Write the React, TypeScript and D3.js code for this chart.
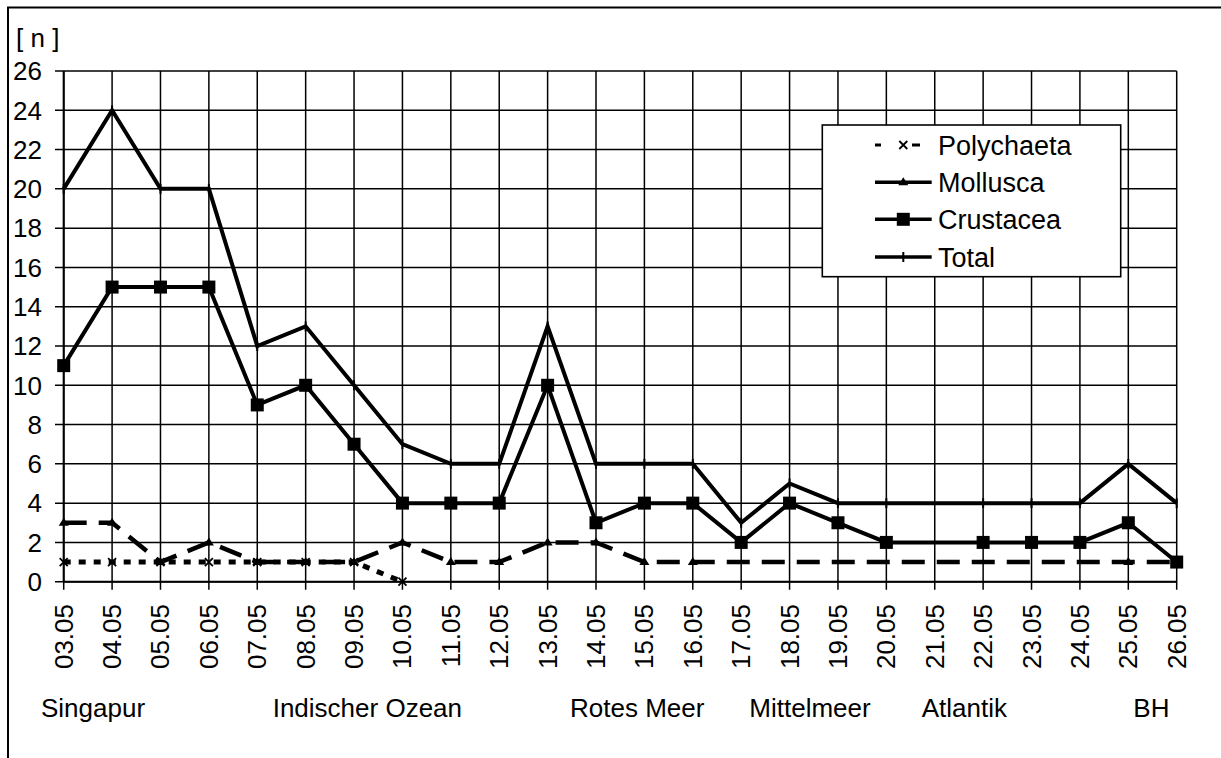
import React from "react";
import * as d3 from "d3";

const dates = ["03.05","04.05","05.05","06.05","07.05","08.05","09.05","10.05","11.05","12.05","13.05","14.05","15.05","16.05","17.05","18.05","19.05","20.05","21.05","22.05","23.05","24.05","25.05","26.05"];
const polychaeta: (number | null)[] = [1,1,1,1,1,1,1,0,null,null,null,null,null,null,null,null,null,null,null,null,null,null,null,null];
const mollusca: (number | null)[] = [3,3,1,2,1,1,1,2,1,1,2,2,1,1,null,null,null,null,null,null,null,null,1,1];
const crustacea: (number | null)[] = [11,15,15,15,9,10,7,4,4,4,10,3,4,4,2,4,3,2,null,2,2,2,3,1];
const total: (number | null)[] = [20,24,20,20,12,13,10,7,6,6,13,6,6,6,3,5,4,4,null,4,4,4,6,4];
const yTicks = [0,2,4,6,8,10,12,14,16,18,20,22,24,26];
const regions = [
  { name: "Singapur", x: 41 },
  { name: "Indischer Ozean", x: 272.7 },
  { name: "Rotes Meer", x: 570 },
  { name: "Mittelmeer", x: 749.3 },
  { name: "Atlantik", x: 921.7 },
  { name: "BH", x: 1133.3 },
];
const seriesNames = ["Polychaeta", "Mollusca", "Crustacea", "Total"];

const FONT = "Liberation Sans, Arial, sans-serif";

export default function App() {
  const x = d3.scalePoint<string>().domain(dates).range([63.7, 1176.7]);
  const y = d3.scaleLinear().domain([0, 26]).range([581.7, 71]);
  const x0 = 63.7, x1 = 1176.7, yTop = 71, yBot = 581.7;

  const pts = (vals: (number | null)[]) =>
    vals.map((v, i) => ({ d: dates[i], v })).filter((p) => p.v !== null) as { d: string; v: number }[];
  const line = d3.line<{ d: string; v: number }>().x((p) => x(p.d)!).y((p) => y(p.v));

  const styles = [
    { vals: polychaeta, dash: "7 8", w: 5, marker: "x" },
    { vals: mollusca, dash: "23 12", w: 4.5, marker: "tri" },
    { vals: crustacea, dash: undefined, w: 4, marker: "sq" },
    { vals: total, dash: undefined, w: 4, marker: "plus" },
  ];

  const drawMarker = (m: string, cx: number, cy: number, key: string) => {
    if (m === "x") {
      const s = 4;
      return (
        <path key={key} d={`M${cx - s},${cy - s}L${cx + s},${cy + s}M${cx - s},${cy + s}L${cx + s},${cy - s}`} stroke="#000" strokeWidth={1.8} />
      );
    }
    if (m === "tri") {
      const s = 5;
      return <path key={key} d={`M${cx},${cy - s}L${cx + s},${cy + s * 0.6}L${cx - s},${cy + s * 0.6}Z`} fill="#000" />;
    }
    if (m === "sq") {
      const s = 6.5;
      return <rect key={key} x={cx - s} y={cy - s} width={2 * s} height={2 * s} fill="#000" />;
    }
    return <line key={key} x1={cx} x2={cx} y1={cy - 5} y2={cy + 5} stroke="#000" strokeWidth={2} />;
  };

  const legendY = [145, 182.3, 219.3, 257];

  return (
    <svg width={1221} height={758} style={{ position: "absolute", left: 0, top: 0, background: "#fff" }} fontFamily={FONT}>
      <rect x={0} y={0} width={1221} height={758} fill="#fff" />
      {/* outer frame */}
      <path d="M8,770L8,7.5L1230,7.5" fill="none" stroke="#000" strokeWidth={2} />
      <text x={16} y={46.5} fontSize={26}>[ n ]</text>

      {/* grid */}
      {yTicks.map((t) => (
        <line key={"h" + t} x1={55} x2={x1} y1={y(t)} y2={y(t)} stroke="#000" strokeWidth={1.5} />
      ))}
      {dates.map((d) => (
        <line key={"v" + d} x1={x(d)!} x2={x(d)!} y1={yTop} y2={yBot + 8} stroke="#000" strokeWidth={1.5} />
      ))}
      <line x1={x0} x2={x1} y1={yBot} y2={yBot} stroke="#000" strokeWidth={2} />
      <line x1={x0} x2={x0} y1={yTop} y2={yBot} stroke="#000" strokeWidth={2} />

      {yTicks.map((t) => (
        <text key={"yt" + t} x={42} y={y(t)} dy="0.36em" textAnchor="end" fontSize={26}>{t}</text>
      ))}
      {dates.map((d) => (
        <text key={"xt" + d} transform={`translate(${x(d)! + 9},604) rotate(-90)`} textAnchor="end" fontSize={26}>{d}</text>
      ))}
      {regions.map((r) => (
        <text key={r.name} x={r.x} y={716.7} fontSize={26}>{r.name}</text>
      ))}

      {/* series */}
      {styles.map((s, i) => {
        const p = pts(s.vals);
        return (
          <g key={"s" + i}>
            <path d={line(p)!} fill="none" stroke="#000" strokeWidth={s.w} strokeDasharray={s.dash} strokeLinejoin="miter" />
            {p.map((q, j) => drawMarker(s.marker, x(q.d)!, y(q.v), `m${i}-${j}`))}
          </g>
        );
      })}

      {/* legend */}
      <rect x={822.3} y={125} width={298.4} height={151.7} fill="#fff" stroke="#000" strokeWidth={1.6} />
      {styles.map((s, i) => (
        <g key={"lg" + i}>
          {i === 0 ? (
            <g>
              <line x1={875} x2={881} y1={legendY[i]} y2={legendY[i]} stroke="#000" strokeWidth={3} />
              <line x1={912} x2={920} y1={legendY[i]} y2={legendY[i]} stroke="#000" strokeWidth={3} />
            </g>
          ) : (
            <line x1={875} x2={931.7} y1={legendY[i]} y2={legendY[i]} stroke="#000" strokeWidth={3.5} />
          )}
          {drawMarker(s.marker, 903.3, legendY[i], "lm" + i)}
          <text x={938} y={legendY[i]} dy="0.36em" fontSize={27}>{seriesNames[i]}</text>
        </g>
      ))}
    </svg>
  );
}
